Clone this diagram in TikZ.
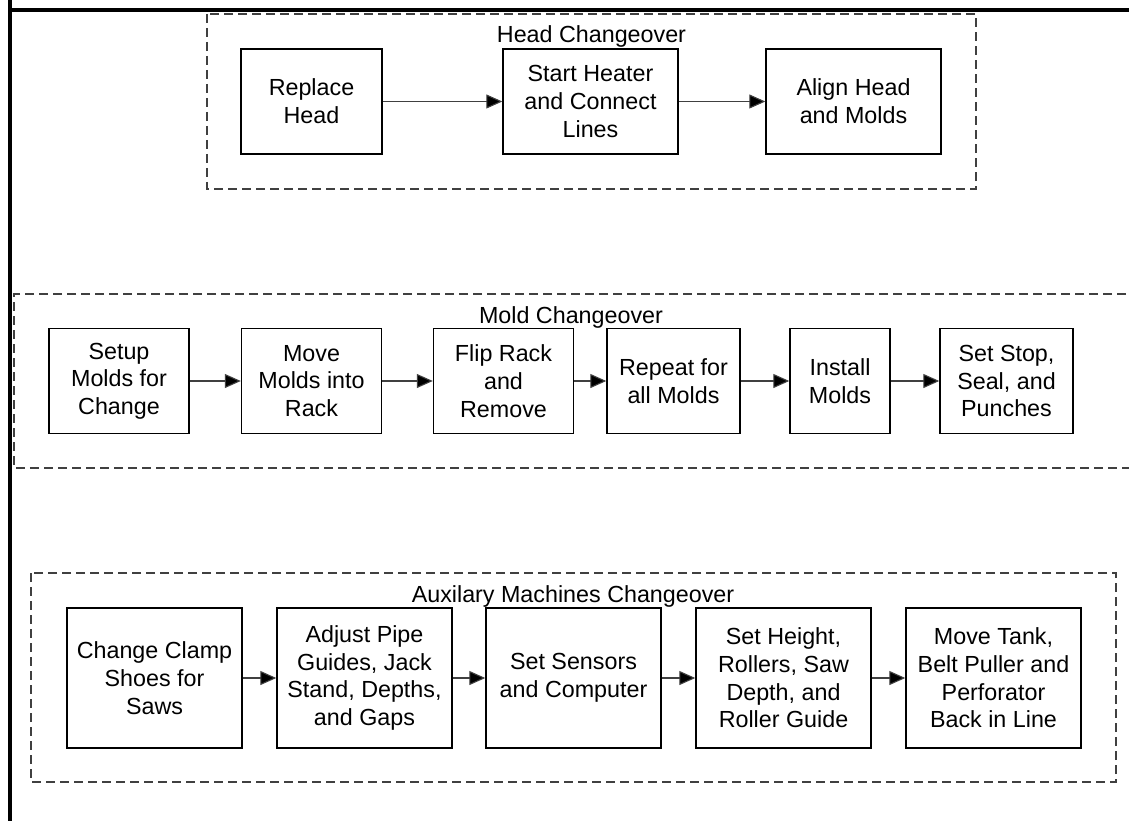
\documentclass[tikz,border=0pt]{standalone}
\usepackage{fontspec}
\setmainfont{Liberation Sans}
\usetikzlibrary{arrows.meta}

\tikzset{
  stepbox/.style={draw=black, line width=1.4pt, rectangle, inner sep=0pt,
    align=center, font=\fontsize{23.3}{27.7}\selectfont},
  groupbox/.style={draw=black!75, line width=1.3pt, dash pattern=on 9pt off 5pt},
  grouplabel/.style={anchor=base, inner sep=0pt, font=\fontsize{23.3}{27.7}\selectfont},
  flow/.style={draw=black!75, line width=1.1pt,
    -{Triangle[length=16pt,width=14pt,fill=black]}},
  frame/.style={line width=4pt, black}
}

\begin{document}
\begin{tikzpicture}[x=1pt, y=-1pt]
  \useasboundingbox (0,0) rectangle (1129,821);

  % page frame (top and left edges)
  \draw[frame] (10,-5) -- (10,10) -- (1140,10);
  \draw[frame] (10,10) -- (10,830);

  % group outlines
  \draw[groupbox] (207,14) rectangle (976,189);
  \draw[groupbox] (1140,294) -- (14,294) -- (14,468) -- (1140,468);
  \draw[groupbox] (31,573) rectangle (1116,782);

  % group titles
  \node[grouplabel] (headlbl) at (591.5,43) {Head Changeover};
  \node[grouplabel] (moldlbl) at (571,323) {Mold Changeover};
  \node[grouplabel] (auxlbl) at (573,602) {Auxilary Machines Changeover};

  % head changeover
  \node[stepbox, minimum width=141pt, minimum height=105pt] (rh) at (311.5,101.5) {Replace\\Head};
  \node[stepbox, minimum width=175pt, minimum height=105pt] (sh) at (590.5,101.5) {Start Heater\\and Connect\\Lines};
  \node[stepbox, minimum width=175pt, minimum height=105pt] (ah) at (853.5,101.5) {Align Head\\and Molds};
  \draw[flow] (rh) -- (sh);
  \draw[flow] (sh) -- (ah);

  % mold changeover
  \node[stepbox, minimum width=140pt, minimum height=105pt] (setup) at (119,381) {Setup\\Molds for\\Change};
  \node[stepbox, minimum width=140pt, minimum height=105pt] (move) at (311.5,381) {Move\\Molds into\\Rack};
  \node[stepbox, minimum width=140pt, minimum height=105pt] (flip) at (503.5,381) {Flip Rack\\and\\Remove};
  \node[stepbox, minimum width=133pt, minimum height=105pt] (rep) at (673.5,381) {Repeat for\\all Molds};
  \node[stepbox, minimum width=100pt, minimum height=105pt] (inst) at (840,381) {Install\\Molds};
  \node[stepbox, minimum width=133pt, minimum height=105pt] (stop) at (1006.5,381) {Set Stop,\\Seal, and\\Punches};
  \draw[flow] (setup) -- (move);
  \draw[flow] (move) -- (flip);
  \draw[flow] (flip) -- (rep);
  \draw[flow] (rep) -- (inst);
  \draw[flow] (inst) -- (stop);

  % auxiliary machines changeover
  \node[stepbox, minimum width=175pt, minimum height=140pt] (clamp) at (154.5,678) {Change Clamp\\Shoes for\\Saws};
  \node[stepbox, minimum width=175pt, minimum height=140pt] (adj) at (364.5,678) {Adjust Pipe\\Guides, Jack\\Stand, Depths,\\and Gaps};
  \node[stepbox, minimum width=175pt, minimum height=140pt] (sens) at (573.5,678) {Set Sensors\\and Computer};
  \node[stepbox, minimum width=175pt, minimum height=140pt] (hgt) at (783.5,678) {Set Height,\\Rollers, Saw\\Depth, and\\Roller Guide};
  \node[stepbox, minimum width=175pt, minimum height=140pt] (tank) at (993.5,678) {Move Tank,\\Belt Puller and\\Perforator\\Back in Line};
  \draw[flow] (clamp) -- (adj);
  \draw[flow] (adj) -- (sens);
  \draw[flow] (sens) -- (hgt);
  \draw[flow] (hgt) -- (tank);
\end{tikzpicture}
\end{document}
